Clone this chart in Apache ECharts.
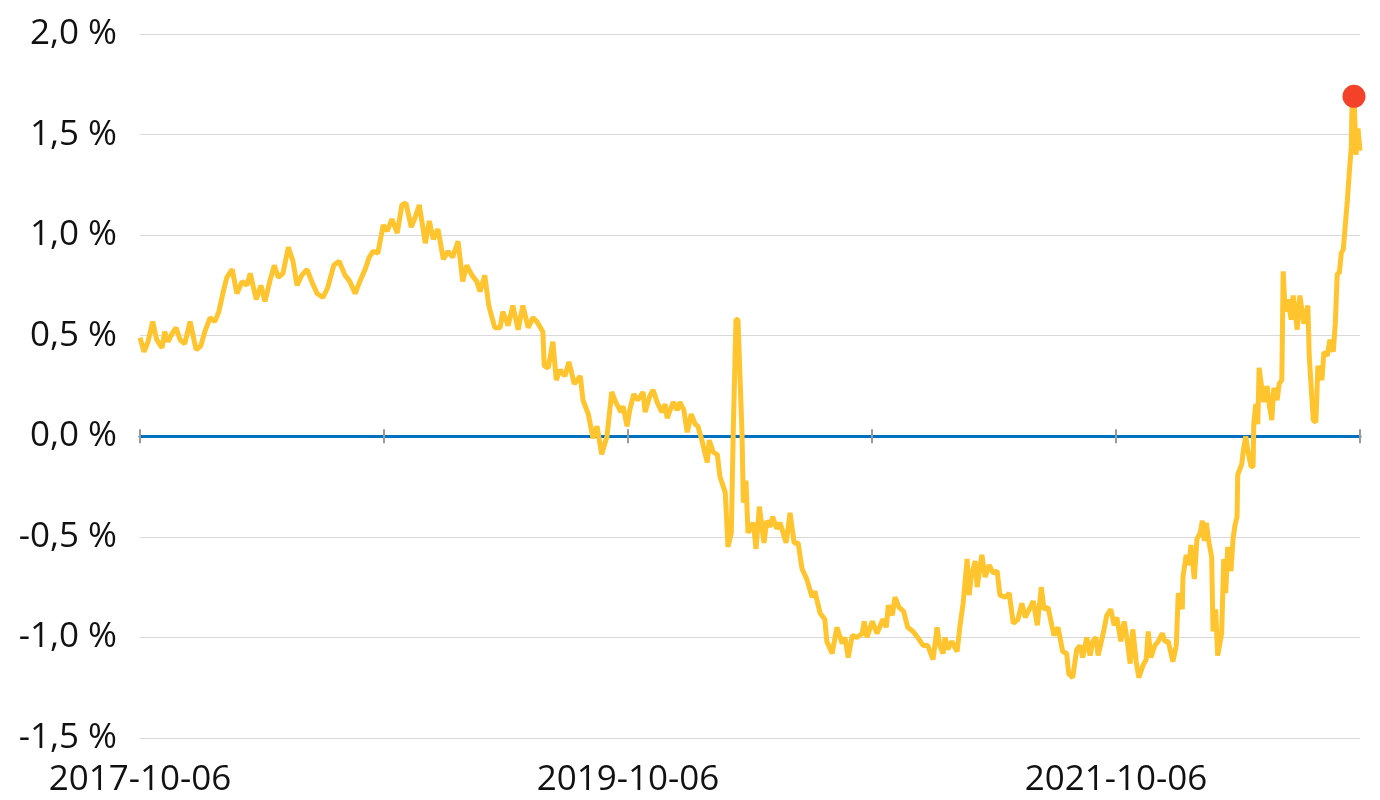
<!DOCTYPE html>
<html>
<head>
<meta charset="utf-8">
<script src="https://cdn.jsdelivr.net/npm/echarts@6/dist/echarts.min.js"></script>
<style>
  html, body { margin: 0; padding: 0; background: #fff; }
  #chart { width: 1380px; height: 800px; }
</style>
</head>
<body>
<div id="chart"></div>
<script>
// yearly tick dates, only every second one is labelled
const tickDates = ['2017-10-06', '2018-10-06', '2019-10-06', '2020-10-06', '2021-10-06', '2022-10-06']
const totalDays = 1826
const yearStep = 365.2

// days since 2017-10-06
const dayOffsets = [
    0, 6, 12, 19, 25, 33, 37, 42, 48, 54, 60, 67, 75, 84, 91, 97, 105, 112, 118, 124,
    130, 138, 145, 153, 160, 165, 174, 181, 187, 195, 201, 207, 214, 222, 229, 235, 242, 250, 257, 265,
    274, 281, 290, 298, 307, 314, 322, 329, 337, 343, 349, 356,
    364, 370, 377, 385, 392, 398, 406, 412, 418, 427, 433, 439, 446, 454, 461, 468, 476, 483, 489, 497,
    504, 509, 516, 522, 531, 539, 543, 551, 558, 566, 573, 581, 588, 594, 603, 605, 611, 618, 623, 629,
    636, 642, 650, 659, 663, 671, 678, 684, 691, 699, 706, 712, 720, 723, 729,
    733, 739, 745, 753, 756, 763, 768, 774, 781, 786, 789, 798, 804, 808, 814, 819, 825, 831, 835, 841,
    849, 852, 858, 864, 868, 876, 880, 885, 888, 892, 895, 901, 903, 907, 910, 918, 922, 927, 934, 938,
    943, 947, 953, 958, 967, 973, 979, 985, 991, 998, 1006, 1010, 1018, 1025, 1028, 1036, 1043, 1051, 1055, 1060,
    1066, 1073, 1081, 1084, 1088, 1096, 1103, 1112, 1117, 1120, 1126, 1130, 1136, 1143, 1149, 1157, 1164, 1172, 1179, 1187,
    1193, 1197, 1202, 1205, 1209, 1215, 1223, 1227, 1232, 1238, 1241, 1244, 1250, 1253, 1260, 1265, 1271, 1277, 1283, 1287,
    1295, 1301, 1307, 1314, 1320, 1325, 1331, 1337, 1343, 1349, 1353, 1359, 1368, 1374, 1381, 1387, 1390, 1396, 1402, 1407,
    1411, 1417, 1422, 1426, 1431, 1434,
    1441, 1447, 1453, 1458, 1462, 1468, 1473, 1477, 1482, 1486, 1491, 1495, 1501, 1506, 1509, 1513, 1519, 1524, 1530, 1534,
    1539, 1546, 1551, 1554, 1560, 1561, 1566, 1570, 1573, 1578, 1582, 1587, 1590, 1593, 1596, 1600, 1604, 1606, 1610, 1613,
    1619, 1622, 1625, 1628, 1633, 1636, 1639, 1642, 1643, 1649, 1651, 1655, 1658, 1663, 1666, 1667, 1670, 1673, 1675, 1679,
    1682, 1687, 1690, 1694, 1697, 1702, 1705, 1709, 1711, 1714, 1718, 1723, 1726, 1732, 1736, 1742, 1748, 1750, 1756, 1760,
    1763, 1769, 1772, 1777, 1781, 1786, 1789, 1792, 1795, 1798, 1801, 1805, 1807, 1810, 1813, 1814, 1817, 1820, 1823, 1826
]

// spread in percent
const spreadValues = [
    0.49, 0.42, 0.47, 0.57, 0.48, 0.44, 0.52, 0.47, 0.51, 0.54, 0.48, 0.46, 0.57, 0.43, 0.45, 0.52, 0.59, 0.57, 0.62, 0.71,
    0.79, 0.83, 0.71, 0.77, 0.75, 0.81, 0.68, 0.75, 0.67, 0.78, 0.85, 0.79, 0.81, 0.94, 0.87, 0.75, 0.80, 0.83, 0.77, 0.71,
    0.69, 0.74, 0.85, 0.87, 0.80, 0.77, 0.71, 0.77, 0.83, 0.89, 0.92, 0.91,
    1.05, 1.02, 1.08, 1.01, 1.15, 1.16, 1.04, 1.09, 1.15, 0.96, 1.07, 0.98, 1.03, 0.88, 0.92, 0.89, 0.97, 0.77, 0.85, 0.80,
    0.77, 0.72, 0.80, 0.65, 0.54, 0.54, 0.62, 0.55, 0.65, 0.53, 0.65, 0.54, 0.59, 0.57, 0.52, 0.35, 0.34, 0.47, 0.28, 0.33,
    0.30, 0.37, 0.26, 0.30, 0.18, 0.11, -0.01, 0.05, -0.09, 0.00, 0.22, 0.17, 0.12, 0.15, 0.05,
    0.13, 0.21, 0.18, 0.22, 0.12, 0.20, 0.23, 0.17, 0.12, 0.16, 0.09, 0.17, 0.13, 0.17, 0.13, 0.02, 0.11, 0.06, 0.05, -0.02,
    -0.13, -0.02, -0.08, -0.09, -0.20, -0.28, -0.55, -0.48, 0.03, 0.58, 0.58, 0.02, -0.33, -0.22, -0.48, -0.43, -0.56, -0.35, -0.53, -0.42,
    -0.45, -0.40, -0.46, -0.43, -0.53, -0.38, -0.53, -0.53, -0.66, -0.71, -0.80, -0.77, -0.88, -0.91, -1.02, -1.08, -0.95, -1.03, -1.00, -1.10,
    -0.99, -1.00, -0.98, -0.92, -1.00, -0.92, -0.98, -0.91, -0.95, -0.84, -0.89, -0.80, -0.85, -0.87, -0.95, -0.97, -1.00, -1.04, -1.04, -1.11,
    -0.95, -1.04, -1.08, -1.00, -1.06, -1.02, -1.07, -0.95, -0.83, -0.61, -0.79, -0.70, -0.62, -0.75, -0.59, -0.70, -0.64, -0.68, -0.67, -0.79,
    -0.80, -0.78, -0.93, -0.91, -0.83, -0.90, -0.86, -0.82, -0.94, -0.75, -0.86, -0.85, -0.99, -0.95, -1.07, -1.08, -1.18, -1.20, -1.06, -1.04,
    -1.10, -1.00, -1.09, -1.02, -1.00, -1.09,
    -0.99, -0.89, -0.86, -0.94, -0.90, -1.02, -0.92, -1.00, -1.13, -0.96, -1.12, -1.20, -1.14, -1.11, -0.97, -1.10, -1.04, -1.02, -0.98, -1.02,
    -1.02, -1.12, -1.04, -0.78, -0.86, -0.70, -0.59, -0.64, -0.54, -0.71, -0.51, -0.48, -0.42, -0.52, -0.43, -0.53, -0.60, -0.97, -0.86, -1.09,
    -0.98, -0.61, -0.78, -0.55, -0.67, -0.51, -0.44, -0.40, -0.19, -0.14, -0.08, 0.00, -0.07, -0.15, -0.15, 0.06, 0.16, 0.06, 0.34, 0.24,
    0.17, 0.25, 0.16, 0.08, 0.24, 0.18, 0.26, 0.28, 0.82, 0.62, 0.68, 0.58, 0.70, 0.53, 0.70, 0.56, 0.65, 0.40, 0.08, 0.07,
    0.35, 0.28, 0.42, 0.40, 0.48, 0.42, 0.56, 0.81, 0.81, 0.91, 0.93, 1.09, 1.17, 1.31, 1.44, 1.64, 1.69, 1.40, 1.53, 1.42
]

const chartDom = document.getElementById('chart')
const chart = echarts.init(chartDom)

const fontFamily = '"Open Sans", "Noto Sans", sans-serif'
const seriesData = dayOffsets.map((d, i) => [d, spreadValues[i]])

const baseX = {
    type: 'value',
    min: 0,
    max: totalDays,
    interval: yearStep,
    splitLine: { show: false }
}

const option = {
    animation: false,
    grid: {
        top: 34,
        left: 140,
        right: 20,
        bottom: 62
    },
    xAxis: [
        {
            ...baseX,
            position: 'bottom',
            axisLine: { show: false, onZero: false },
            axisTick: { show: false },
            axisLabel: {
                margin: 25,
                fontSize: 35,
                fontFamily: fontFamily,
                color: '#111',
                showMaxLabel: true,
                formatter: function (v) {
                    const idx = Math.round(v / yearStep)
                    return idx % 2 === 0 ? (tickDates[idx] || '') : ''
                }
            }
        },
        {
            ...baseX,
            axisLine: { show: true, onZero: true, onZeroAxisIndex: 0, lineStyle: { color: '#0070c0', width: 3 } },
            axisTick: { show: true, inside: false, length: 7, lineStyle: { color: '#9a9a9a', width: 2 } },
            axisLabel: { show: false }
        },
        {
            ...baseX,
            axisLine: { show: false, onZero: true, onZeroAxisIndex: 1 },
            axisTick: { show: true, inside: true, length: 7, lineStyle: { color: '#9a9a9a', width: 2 } },
            axisLabel: { show: false }
        }
    ],
    yAxis: [
        {
            type: 'value',
            min: -1.5,
            max: 2.0,
            interval: 0.5,
            axisLine: { show: false },
            axisTick: { show: false },
            splitLine: { lineStyle: { color: '#d9d9d9', width: 1 } },
            axisLabel: {
                margin: 23,
                fontSize: 35,
                fontFamily: fontFamily,
                color: '#111',
                formatter: function (v) {
                    return v.toFixed(1).replace('.', ',') + ' %'
                }
            }
        },
        {
            type: 'value',
            min: -1.5,
            max: 2.0,
            interval: 0.5,
            show: false
        }
    ],
    series: [
        {
            type: 'line',
            xAxisIndex: 0,
            yAxisIndex: 0,
            data: seriesData,
            symbol: 'none',
            lineStyle: { color: '#ffc42e', width: 5 },
            markPoint: {
                symbol: 'circle',
                symbolSize: 23,
                itemStyle: { color: '#f4412a' },
                label: { show: false },
                data: [{ type: 'max' }]
            }
        }
    ]
}

option && chart.setOption(option)
</script>
</body>
</html>
